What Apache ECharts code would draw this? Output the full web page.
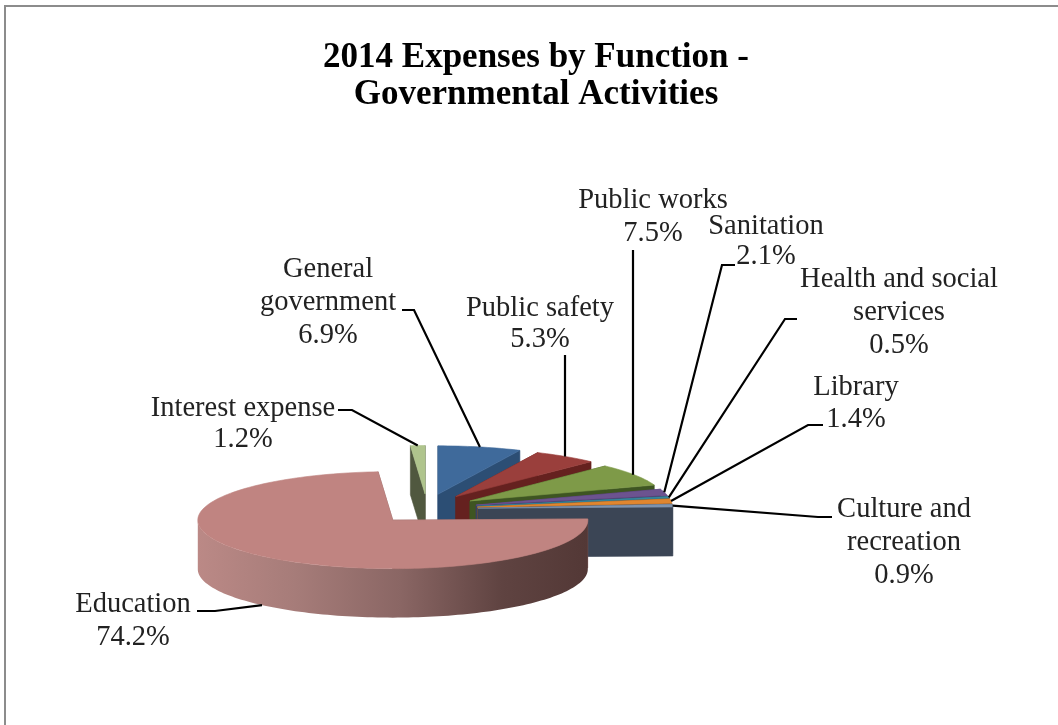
<!DOCTYPE html>
<html>
<head>
<meta charset="utf-8">
<title>2014 Expenses by Function</title>
<style>
  html, body { margin: 0; padding: 0; background: #fff; }
  #chart { width: 1058px; height: 725px; }
</style>
<script src="https://cdn.jsdelivr.net/npm/echarts@6/dist/echarts.min.js"></script>
</head>
<body>
<div id="chart"></div>
<script>
// Expense shares, clockwise from twelve o'clock
const categories = [
  'General\ngovernment', 'Public safety', 'Public works', 'Sanitation',
  'Health and social\nservices', 'Library', 'Culture and\nrecreation',
  'Education', 'Interest expense'
];
const shares = [6.9, 5.3, 7.5, 2.1, 0.5, 1.4, 0.9, 74.2, 1.2];

// Top face, cut face and rim wall colours per slice
const topColors = ['#3f6a9b', '#9a3f3c', '#7e9a48', '#6c5390', '#38879d', '#e0862f', '#7f93ad', '#c08481', '#afc48d'];
const faceColors = ['#2c4e74', '#65211f', '#3e5522', '#4a3566', '#22596a', '#a25d1c', '#3b4555', '#8a5e5c', '#50583f'];

// Projection of the tilted, exploded pie
const pie = { cx: 427, cy: 509, explodeX: 51, explodeY: 15, rx: 195, ry: 48.5, depth: 49 };

// Label centres, leader elbows and leader ends, in slice order
const labelCentres = [[328, 303], [540, 324], [653, 217], [766, 242], [899, 313], [856, 404], [904, 543], [133, 621], [243, 424]];
const leaderElbows = [[414, 310], [565, 355], [633, 250], [722, 265], [785, 319], [808, 425], [818, 517], [215, 611], [352, 410]];
const leaderEnds = [[402, 310], [565, 355], [633, 250], [735, 265], [797, 319], [823, 425], [832, 517], [197, 611], [338, 410]];
const labelLineHeights = [33, 31, 33, 30, 33, 32, 33, 33, 31];

const toRad = d => d * Math.PI / 180;

// Start and end angle of every slice, in degrees clockwise from the top
const spans = [];
shares.reduce((sum, v) => {
  spans.push([sum * 3.6, (sum + v) * 3.6]);
  return sum + v;
}, 0);

function apexOf(i) {
  const mid = toRad((spans[i][0] + spans[i][1]) / 2);
  return [pie.cx + pie.explodeX * Math.sin(mid), pie.cy - pie.explodeY * Math.cos(mid)];
}
function rimPoint(i, deg) {
  const a = apexOf(i);
  return [a[0] + pie.rx * Math.sin(toRad(deg)), a[1] - pie.ry * Math.cos(toRad(deg))];
}
function arcPoints(i, from, to) {
  const pts = [];
  const steps = Math.max(2, Math.ceil((to - from) / 1.5));
  for (let k = 0; k <= steps; k++) pts.push(rimPoint(i, from + (to - from) * k / steps));
  return pts;
}
const drop = p => [p[0], p[1] + pie.depth];

// Slices are painted back to front: the interest wedge first, education last
const paintOrder = [8, 0, 1, 2, 3, 4, 5, 6, 7];

function renderSlice(params) {
  const i = paintOrder[params.dataIndex];
  const [a0, a1] = spans[i];
  const apex = apexOf(i);
  const z = params.dataIndex * 10 + 1;
  const poly = (points, fill, dz) => ({
    type: 'polygon', z2: z + dz, silent: true,
    shape: { points },
    style: { fill, stroke: typeof fill === 'string' ? fill : null, lineWidth: typeof fill === 'string' ? 0.6 : 0 }
  });
  const children = [];
  const rimA = rimPoint(i, a0), rimB = rimPoint(i, a1);
  children.push(poly([apex, rimB, drop(rimB), drop(apex)], faceColors[i], 0));
  children.push(poly([apex, rimA, drop(rimA), drop(apex)], faceColors[i], 1));
  // Rim wall, only where the rim faces the viewer
  const wallFrom = Math.max(a0, 90), wallTo = Math.min(a1, 270);
  if (wallTo > wallFrom) {
    const rim = arcPoints(i, wallFrom, wallTo);
    const wallFill = new echarts.graphic.LinearGradient(0, 0, 1, 0, [
      { offset: 0, color: '#bb8986' },
      { offset: 0.25, color: '#a67c79' },
      { offset: 0.52, color: '#8a6664' },
      { offset: 0.78, color: '#5f4341' },
      { offset: 1, color: '#533836' }
    ]);
    children.push(poly(rim.concat(rim.slice().reverse().map(drop)), wallFill, 2));
  }
  children.push(poly([apex].concat(arcPoints(i, a0, a1)), topColors[i], 3));
  return { type: 'group', children };
}

function renderLabel(params) {
  const i = params.dataIndex;
  const mid = (spans[i][0] + spans[i][1]) / 2;
  let start = rimPoint(i, mid);
  if (mid > 90 && mid < 270) start = drop(start);
  // A leader whose upper part is vertical stays vertical down to the rim
  if (leaderElbows[i][0] === leaderEnds[i][0]) start = [leaderElbows[i][0], start[1]];
  const text = categories[i] + '\n' + shares[i].toFixed(1) + '%';
  return {
    type: 'group',
    children: [
      {
        type: 'polyline', z2: 200, silent: true,
        shape: { points: [start, leaderElbows[i], leaderEnds[i]] },
        style: { stroke: '#000', lineWidth: 2.2, fill: null }
      },
      {
        type: 'text', z2: 201, silent: true,
        style: {
          x: labelCentres[i][0], y: labelCentres[i][1], text,
          align: 'center', verticalAlign: 'middle',
          font: '28.5px "Liberation Serif"', lineHeight: labelLineHeights[i], fill: '#222'
        }
      }
    ]
  };
}

const chart = echarts.init(document.getElementById('chart'), null, { renderer: 'canvas' });
chart.setOption({
  animation: false,
  backgroundColor: '#fff',
  title: {
    text: '2014 Expenses by Function -\nGovernmental Activities',
    left: 531, top: 34, textAlign: 'center',
    textStyle: { fontFamily: 'Liberation Serif', fontWeight: 'bold', fontSize: 35, lineHeight: 37, color: '#000' }
  },
  graphic: [
    { type: 'line', silent: true, shape: { x1: 5, y1: 6, x2: 1058, y2: 6 }, style: { stroke: '#8c8c8c', lineWidth: 2 } },
    { type: 'line', silent: true, shape: { x1: 5, y1: 5, x2: 5, y2: 725 }, style: { stroke: '#8c8c8c', lineWidth: 2 } }
  ],
  series: [
    { type: 'custom', coordinateSystem: 'none', silent: true, renderItem: renderSlice, data: paintOrder.map(i => shares[i]) },
    { type: 'custom', coordinateSystem: 'none', silent: true, z: 3, renderItem: renderLabel, data: shares }
  ]
});
</script>
</body>
</html>
